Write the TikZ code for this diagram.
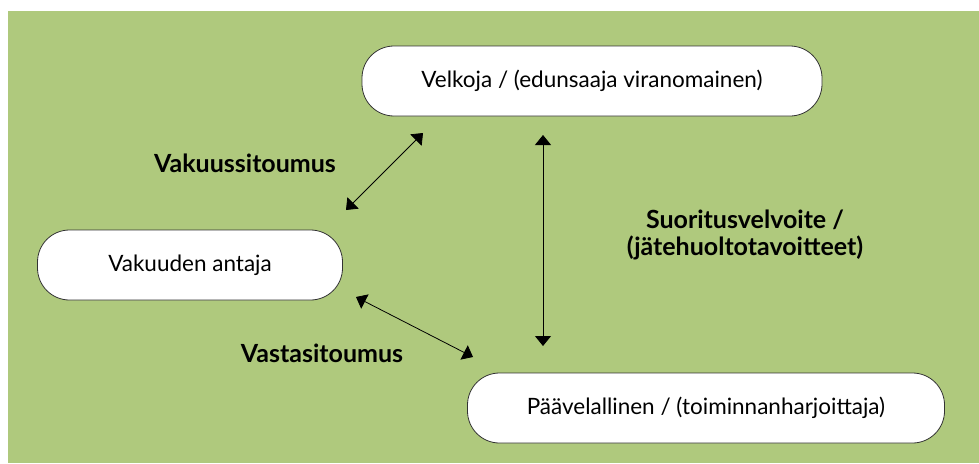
\documentclass[tikz,border=0pt]{standalone}
\usepackage{fontspec}
\setmainfont{Lato}
\usepackage{xcolor}
\usetikzlibrary{arrows.meta, positioning}
\definecolor{bggreen}{RGB}{175,201,125}

\begin{document}
\begin{tikzpicture}[
    x=1pt, y=-1pt,
    box/.style={rectangle, rounded corners=32pt, draw=black!80, fill=white,
                line width=0.8pt, minimum height=70pt,
                text centered, font=\fontsize{22.5}{26}\selectfont},
    lbl/.style={font=\fontsize{25}{27}\selectfont\bfseries, align=center},
    arrow/.style={{Triangle[length=10pt,width=16pt]}-{Triangle[length=10pt,width=16pt]},
                  line width=0.8pt}
]
\useasboundingbox (0,0) rectangle (979,463);
\fill[bggreen] (8,11) rectangle (979,463);

\node[box, minimum width=460pt] (velkoja)    at (592,81)  {Velkoja / (edunsaaja viranomainen)};
\node[box, minimum width=305pt] (antaja)     at (190,265) {Vakuuden antaja};
\node[box, minimum width=477pt] (velallinen) at (706,408) {Päävelallinen / (toiminnanharjoittaja)};

\node[lbl] (vakuus)   at (245,163) {Vakuussitoumus};
\node[lbl] (vasta)    at (322,353) {Vastasitoumus};
\node[lbl] (suoritus) at (745,235) {Suoritusvelvoite /\\(jätehuoltotavoitteet)};

% arrow ends
\coordinate (vakuusA) at (346,210);
\coordinate (vakuusB) at (423,133);
\coordinate (vastaA)  at (356,297);
\coordinate (vastaB)  at (473,357);
\coordinate (suorA)   at (543,135);
\coordinate (suorB)   at (543,346);

\draw[arrow] (vakuusA) -- (vakuusB);
\draw[arrow] (vastaA)  -- (vastaB);
\draw[arrow] (suorA)   -- (suorB);

\end{tikzpicture}
\end{document}
